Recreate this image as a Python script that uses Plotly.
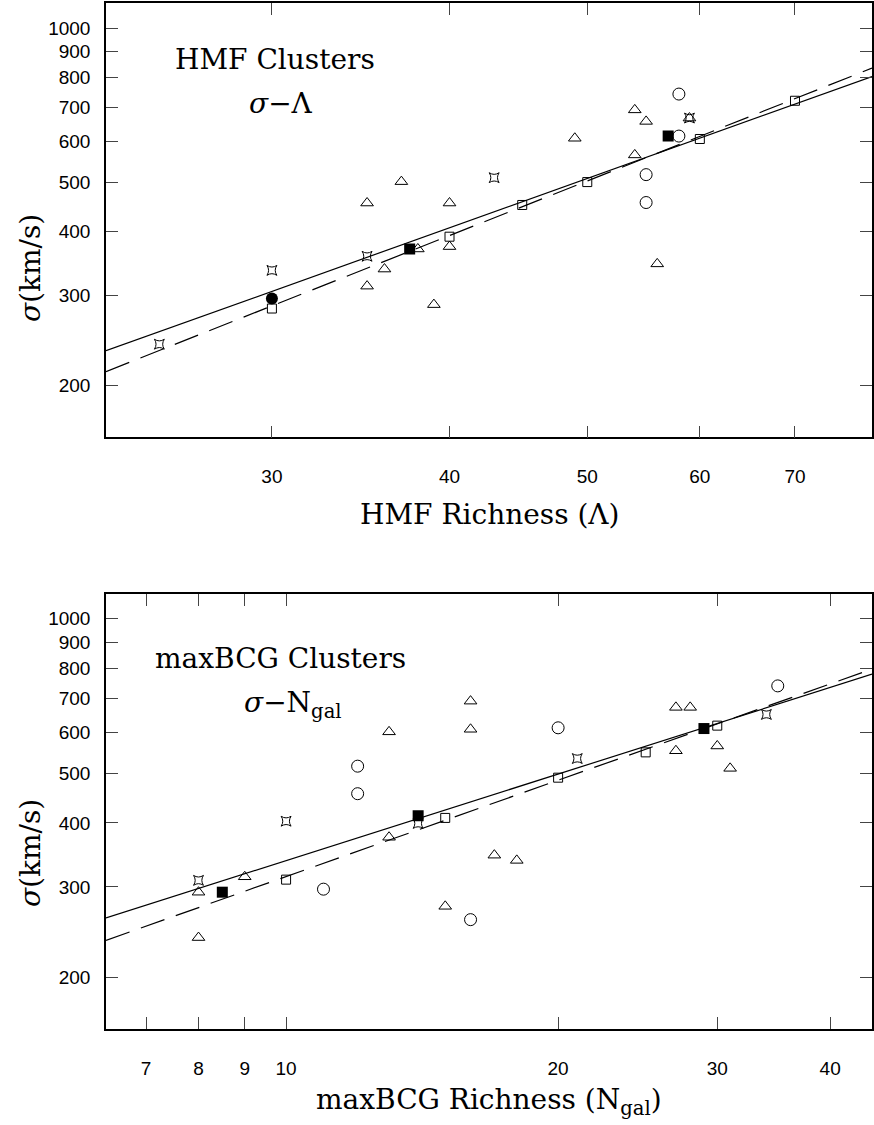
import math
import plotly.graph_objects as go

# ---------------- Data: HMF clusters (top panel) ----------------
hmf_tri_x = [35, 37, 40, 54, 55, 59, 49, 54, 56, 35, 36, 38, 40, 39]
hmf_tri_y = [455, 501, 455, 692, 657, 667, 609, 565, 346, 313, 338, 370, 374, 288]
hmf_circ_x = [58, 58, 55, 55]
hmf_circ_y = [743, 615, 517, 456]
hmf_star_x = [43, 59, 25, 30, 35]
hmf_star_y = [510, 667, 241, 336, 358]
hmf_sq_x = [60, 50, 45, 70, 30, 40]
hmf_sq_y = [607, 500, 451, 721, 283, 391]
hmf_fsq_x = [37.5, 57]
hmf_fsq_y = [370, 615]
hmf_fcirc_x = [30]
hmf_fcirc_y = [296]
hmf_fit_x = [22.93, 79.3]
hmf_solid_y = [234, 804]
hmf_dash_y = [213, 835]

# ---------------- Data: maxBCG clusters (bottom panel) ----------------
bcg_tri_x = [16, 16, 13, 13, 27, 28, 27, 30, 31, 8, 8, 9, 15, 17, 18]
bcg_tri_y = [691, 609, 602, 375, 672, 672, 553, 565, 511, 293, 239, 314, 275, 346, 338]
bcg_circ_x = [12, 12, 20, 35, 11, 16]
bcg_circ_y = [516, 456, 613, 740, 297, 259]
bcg_star_x = [10, 14, 21, 34, 8]
bcg_star_y = [403, 399, 534, 651, 309]
bcg_sq_x = [15, 20, 25, 30, 10]
bcg_sq_y = [409, 490, 549, 619, 310]
bcg_fsq_x = [8.5, 14, 29]
bcg_fsq_y = [293, 413, 611]
bcg_fit_x = [6.32, 44.5]
bcg_solid_y = [261, 780]
bcg_dash_y = [236, 798]

# ---------------- Axes ----------------
hmf_xticks = [30, 40, 50, 60, 70]
bcg_xticks = [7, 8, 9, 10, 20, 30, 40]
y_ticks = [200, 300, 400, 500, 600, 700, 800, 900, 1000]
hmf_xrange = [22.93, 79.3]
bcg_xrange = [6.32, 44.5]
y_range = [158.5, 1118]

SERIF = "DejaVu Serif, Liberation Serif, serif"
SANS = "Liberation Sans, Arial, sans-serif"

fig = go.Figure()


def add_panel(xa, ya, tri, circ, star, sq, fsq, fit_x, solid_y, dash_y, fcirc=None):
    common = dict(xaxis=xa, yaxis=ya, showlegend=False, hoverinfo="skip")
    fig.add_trace(go.Scatter(x=fit_x, y=solid_y, mode="lines",
                             line=dict(color="black", width=1.2), **common))
    fig.add_trace(go.Scatter(x=fit_x, y=dash_y, mode="lines",
                             line=dict(color="black", width=1.2, dash="25px,12px"), **common))
    fig.add_trace(go.Scatter(x=tri[0], y=tri[1], mode="markers",
                             marker=dict(symbol="triangle-up-open", size=11, color="black",
                                         line=dict(width=1, color="black")), **common))
    fig.add_trace(go.Scatter(x=circ[0], y=circ[1], mode="markers",
                             marker=dict(symbol="circle-open", size=12, color="black",
                                         line=dict(width=1, color="black")), **common))
    fig.add_trace(go.Scatter(x=star[0], y=star[1], mode="markers",
                             marker=dict(symbol="star-square-open", size=9, color="black",
                                         line=dict(width=1, color="black")), **common))
    fig.add_trace(go.Scatter(x=sq[0], y=sq[1], mode="markers",
                             marker=dict(symbol="square-open", size=9, color="black",
                                         line=dict(width=1, color="black")), **common))
    fig.add_trace(go.Scatter(x=fsq[0], y=fsq[1], mode="markers",
                             marker=dict(symbol="square", size=11, color="black",
                                         line=dict(width=0)), **common))
    if fcirc is not None:
        fig.add_trace(go.Scatter(x=fcirc[0], y=fcirc[1], mode="markers",
                                 marker=dict(symbol="circle", size=12, color="black",
                                             line=dict(width=0)), **common))


add_panel("x", "y", (hmf_tri_x, hmf_tri_y), (hmf_circ_x, hmf_circ_y),
          (hmf_star_x, hmf_star_y), (hmf_sq_x, hmf_sq_y), (hmf_fsq_x, hmf_fsq_y),
          hmf_fit_x, hmf_solid_y, hmf_dash_y, fcirc=(hmf_fcirc_x, hmf_fcirc_y))
add_panel("x2", "y2", (bcg_tri_x, bcg_tri_y), (bcg_circ_x, bcg_circ_y),
          (bcg_star_x, bcg_star_y), (bcg_sq_x, bcg_sq_y), (bcg_fsq_x, bcg_fsq_y),
          bcg_fit_x, bcg_solid_y, bcg_dash_y)

W, H = 874, 1125
L, R = 106, 2


def px_y(py):
    return 1 - py / H


axis_common = dict(
    type="log", showgrid=False, zeroline=False, showline=True, mirror="ticks",
    linecolor="black", linewidth=1.5, ticks="inside", ticklen=12, tickwidth=1,
    tickcolor="#444", tickfont=dict(family=SANS, size=19, color="black"),
)

fig.update_layout(
    width=W, height=H,
    margin=dict(l=L, r=R, t=0, b=0),
    paper_bgcolor="white", plot_bgcolor="white",
    xaxis=dict(domain=[0, 1], anchor="y",
               range=[math.log10(hmf_xrange[0]), math.log10(hmf_xrange[1])],
               tickvals=hmf_xticks, ticktext=[str(v) for v in hmf_xticks],
               ticklabelstandoff=21, **axis_common),
    yaxis=dict(domain=[px_y(437.3), px_y(3.3)], anchor="x",
               range=[math.log10(y_range[0]), math.log10(y_range[1])],
               tickvals=y_ticks, ticktext=[str(v) for v in y_ticks],
               ticklabelstandoff=10, **axis_common),
    xaxis2=dict(domain=[0, 1], anchor="y2",
                range=[math.log10(bcg_xrange[0]), math.log10(bcg_xrange[1])],
                tickvals=bcg_xticks, ticktext=[str(v) for v in bcg_xticks],
                ticklabelstandoff=21, **axis_common),
    yaxis2=dict(domain=[px_y(1029), px_y(594)], anchor="x2",
                range=[math.log10(y_range[0]), math.log10(y_range[1])],
                tickvals=y_ticks, ticktext=[str(v) for v in y_ticks],
                ticklabelstandoff=10, **axis_common),
)


def px_x(px):
    return (px - L) / (W - L - R)


annots = [
    dict(text="HMF Clusters", x=px_x(173), y=px_y(59.3), xanchor="left", yanchor="middle", size=28),
    dict(text="<i>σ</i>−Λ", x=px_x(247), y=px_y(103), xanchor="left", yanchor="middle", size=28),
    dict(text="maxBCG Clusters", x=px_x(152.7), y=px_y(658.3), xanchor="left", yanchor="middle", size=28),
    dict(text="<i>σ</i>−N<sub>gal</sub>", x=px_x(241.7), y=px_y(704), xanchor="left", yanchor="middle", size=28),
    dict(text="HMF Richness (Λ)", x=0.5, y=px_y(514), xanchor="center", yanchor="middle", size=28),
    dict(text="maxBCG Richness (N<sub>gal</sub>)", x=0.5, y=px_y(1101), xanchor="center", yanchor="middle", size=28),
    dict(text="<i>σ</i>(km/s)", x=px_x(30), y=px_y(268), xanchor="center", yanchor="middle", size=28, angle=-90),
    dict(text="<i>σ</i>(km/s)", x=px_x(30), y=px_y(853), xanchor="center", yanchor="middle", size=28, angle=-90),
]
for a in annots:
    fig.add_annotation(text=a["text"], x=a["x"], y=a["y"], xref="paper", yref="paper",
                       xanchor=a["xanchor"], yanchor=a["yanchor"], showarrow=False,
                       textangle=a.get("angle", 0),
                       font=dict(family=SERIF, size=a["size"], color="black"))

fig.write_html("out.html")
